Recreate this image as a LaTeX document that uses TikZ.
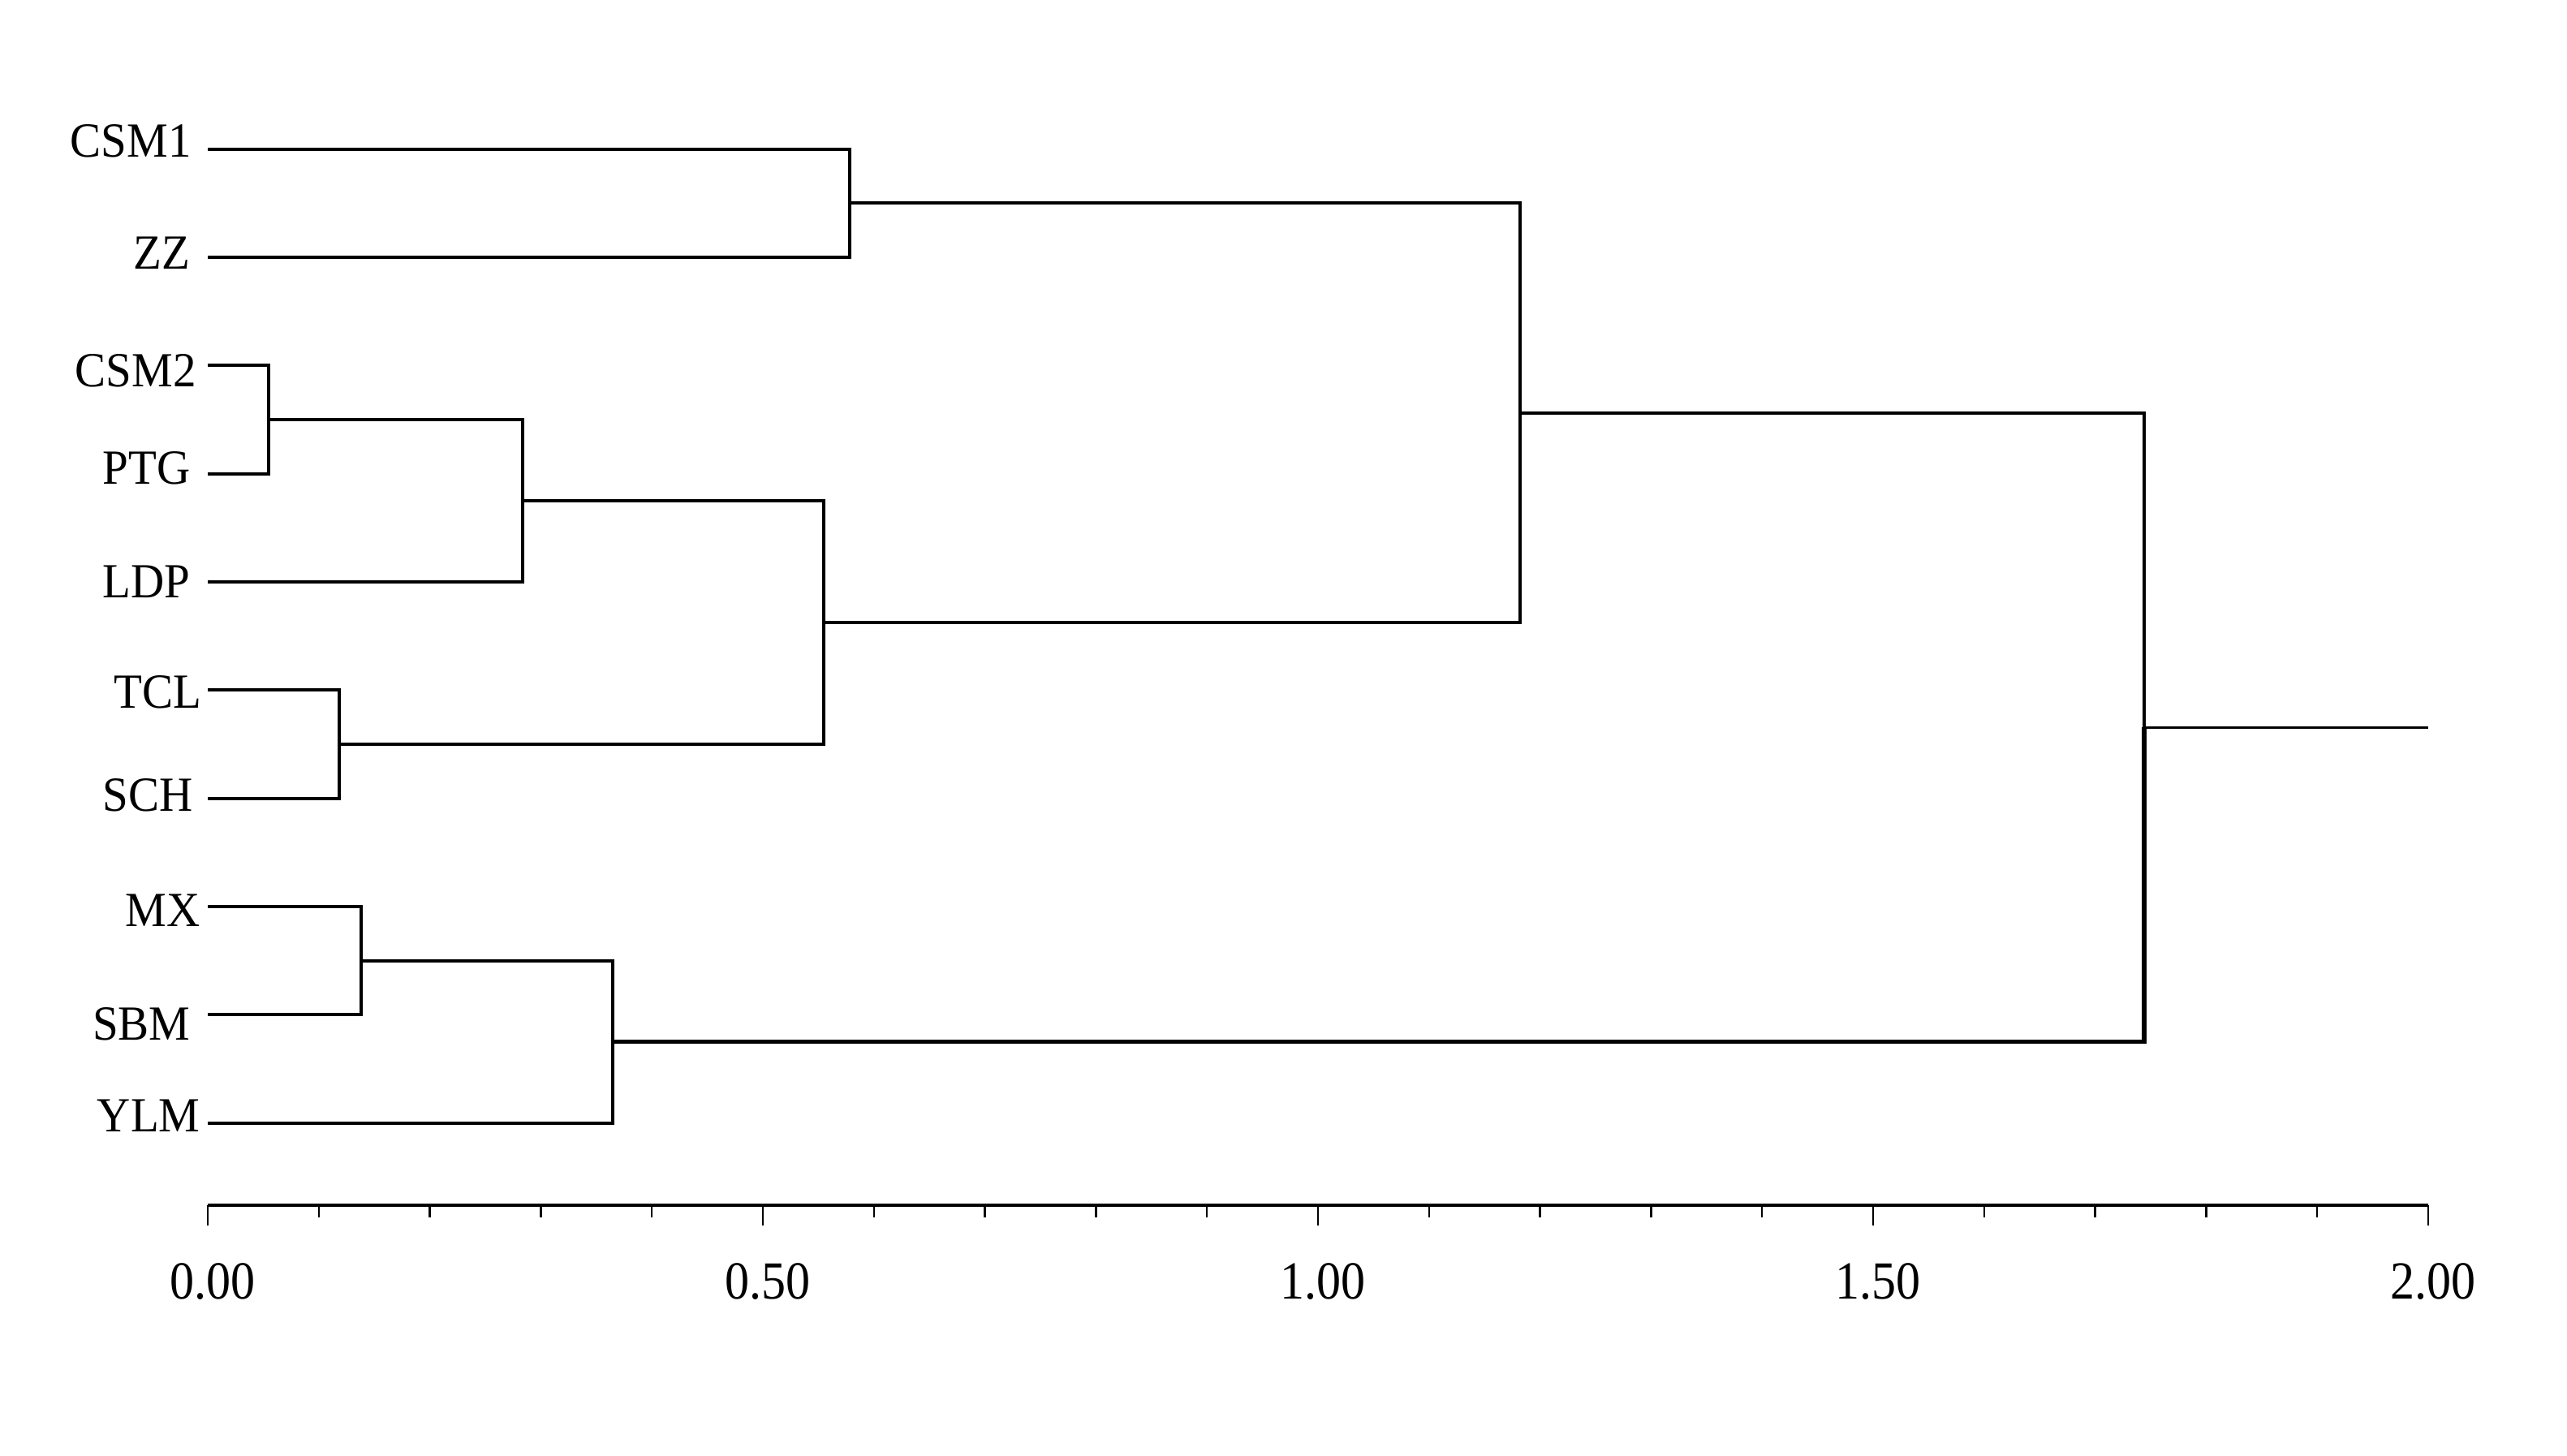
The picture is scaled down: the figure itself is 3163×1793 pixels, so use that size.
\documentclass[tikz,border=0pt]{standalone}
\usepackage{fontspec}
\setmainfont{Liberation Serif}
\begin{document}
\begin{tikzpicture}[x=0.5pt,y=-0.5pt,
  branch/.style={line width=2pt, line join=miter},
  lab/.style={anchor=base east, inner sep=0pt, font=\fontsize{28.5}{34}\selectfont},
  ticklab/.style={anchor=base, inner sep=0pt, font=\fontsize{30}{36}\selectfont}]
\useasboundingbox (0,0) rectangle (3163,1793);
% leaf start points
\coordinate (L0) at (256,183.6);
\coordinate (L1) at (256,316.95);
\coordinate (L2) at (256,450.3);
\coordinate (L3) at (256,583.65);
\coordinate (L4) at (256,717.0);
\coordinate (L5) at (256,850.35);
\coordinate (L6) at (256,983.7);
\coordinate (L7) at (256,1117.05);
\coordinate (L8) at (256,1250.4);
\coordinate (L9) at (256,1383.75);
% labels
\node[lab] (n0) at (236,193.3) {\scalebox{1}[1.06]{CSM1}};
\node[lab] (n1) at (235,331.7) {\scalebox{1}[1.06]{ZZ}};
\node[lab] (n2) at (242,476.7) {\scalebox{1}[1.06]{CSM2}};
\node[lab] (n3) at (235,596.7) {\scalebox{1}[1.06]{PTG}};
\node[lab] (n4) at (235,736.0) {\scalebox{1}[1.06]{LDP}};
\node[lab] (n5) at (249,872.7) {\scalebox{1}[1.06]{TCL}};
\node[lab] (n6) at (238,999.3) {\scalebox{1}[1.06]{SCH}};
\node[lab] (n7) at (247,1141.0) {\scalebox{1}[1.06]{MX}};
\node[lab] (n8) at (235,1281.0) {\scalebox{1}[1.06]{SBM}};
\node[lab] (n9) at (247,1394.0) {\scalebox{1}[1.06]{YLM}};
% joints
\coordinate (J1) at (1047,250.3);
\coordinate (J2) at (331,517.0);
\coordinate (J3) at (644,617.0);
\coordinate (J4) at (418,917.0);
\coordinate (J5) at (1015,767.0);
\coordinate (J6) at (1873,508.6);
\coordinate (J7) at (445,1183.7);
\coordinate (J8) at (755,1283.7);
\coordinate (J9) at (2642,896.2);
\coordinate (T) at (2992,896.2);
% brackets
\draw[branch] (L0) -- (L0 -| J1) -- (L1 -| J1) -- (L1);
\draw[branch] (L2) -- (L2 -| J2) -- (L3 -| J2) -- (L3);
\draw[branch] (J2) -- (J2 -| J3) -- (L4 -| J3) -- (L4);
\draw[branch] (L5) -- (L5 -| J4) -- (L6 -| J4) -- (L6);
\draw[branch] (J3) -- (J3 -| J5) -- (J4 -| J5) -- (J4);
\draw[branch] (J1) -- (J1 -| J6) -- (J5 -| J6) -- (J5);
\draw[branch] (L7) -- (L7 -| J7) -- (L8 -| J7) -- (L8);
\draw[branch] (J7) -- (J7 -| J8) -- (L9 -| J8) -- (L9);
\draw[branch, line width=1.9pt] (J6) -- (J6 -| J9) -- (J9);
\draw[branch, line width=2.6pt] (J9) -- (J8 -| J9) -- (J8);
\draw[line width=1.5pt] (J9) -- (T);
% axis
\draw[line width=2.3pt] (256,1485) -- (2992,1485);
\foreach \i in {0,...,20} {
  \pgfmathsetmacro{\xx}{256+\i*136.8}
  \pgfmathtruncatemacro{\m}{mod(\i,5)}
  \ifnum\m=0
    \draw[line width=1.2pt] (\xx,1485) -- (\xx,1510);
  \else
    \draw[line width=1.2pt] (\xx,1485) -- (\xx,1500);
  \fi
}
\foreach \v [count=\k from 0] in {0.00,0.50,1.00,1.50,2.00} {
  \node[ticklab] (t\k) at (262+\k*684,1600) {\scalebox{1}[1.1]{\v}};
}
\end{tikzpicture}
\end{document}
